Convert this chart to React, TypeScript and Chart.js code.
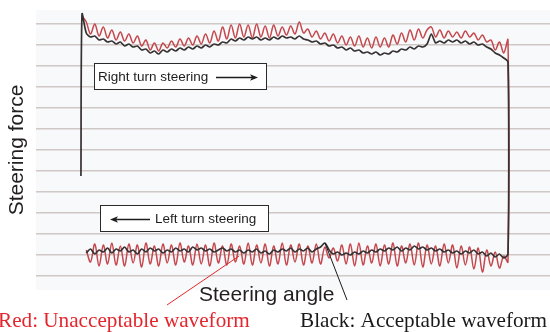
import { useEffect, useRef } from "react";
import { Chart, registerables } from "chart.js";

Chart.register(...registerables);

// Steering angle samples (deg)
const angles = [
  -400, -392, -384, -376, -368, -360, -352, -344, -336, -328,
  -320, -312, -304, -296, -288, -280, -272, -264, -256, -248,
  -240, -232, -224, -216, -208, -200, -192, -184, -176, -168,
  -160, -152, -144, -136, -128, -120, -112, -104, -96, -88,
  -80, -72, -64, -56, -48, -40, -32, -24, -16, -8,
  0, 8, 16, 24, 32, 40, 48, 56, 64, 72,
  80, 88, 96, 104, 112, 120, 128, 136, 144, 152,
  160, 168, 176, 184, 192, 200, 208, 216, 224, 232,
  240, 248, 256, 264, 272, 280, 288, 296, 304, 312,
  320, 328, 336, 344, 352, 360, 368, 376, 384, 392,
  400,
];

// Start of the black trace (bottom of the initial vertical rise)
const blackStartAngle = -402;
const blackStartForce = -26;

// Right turn steering (upper branch), steering force
const blackUpper = [
  136, 117, 113, 114, 110, 111, 108, 109, 106, 108,
  104, 106, 103, 104, 100, 101, 97, 99, 96, 100,
  98, 101, 99, 102, 100, 103, 101, 104, 102, 105,
  103, 106, 105, 108, 107, 111, 109, 112, 110, 113,
  111, 113, 110, 112, 110, 113, 111, 114, 112, 113,
  111, 114, 111, 110, 108, 109, 106, 107, 104, 105,
  102, 103, 100, 102, 99, 100, 97, 98, 96, 98,
  95, 97, 96, 99, 98, 101, 100, 103, 101, 104,
  103, 106, 116, 107, 109, 107, 110, 108, 110, 107,
  109, 106, 108, 105, 106, 103, 101, 97, 95, 92,
  88,
];

const redUpper = [
  134, 128, 116, 126, 114, 123, 112, 120, 110, 118,
  109, 116, 107, 114, 104, 110, 100, 107, 99, 107,
  102, 109, 103, 111, 104, 112, 105, 114, 106, 116,
  107, 119, 109, 123, 111, 125, 112, 126, 113, 125,
  112, 126, 113, 124, 112, 125, 114, 123, 115, 124,
  116, 128, 117, 121, 113, 119, 111, 117, 109, 116,
  107, 114, 105, 113, 104, 114, 103, 112, 102, 113,
  103, 112, 103, 115, 106, 117, 108, 120, 110, 121,
  112, 120, 123, 113, 120, 112, 119, 113, 118, 112,
  119, 113, 117, 110, 115, 108, 110, 100, 108, 97,
  110,
];

// Left turn steering (lower branch), steering force
const blackLower = [
  null, -103, -99, -104, -100, -102, -98, -103, -99, -101,
  -97, -102, -100, -104, -99, -102, -98, -101, -99, -103,
  -100, -102, -98, -101, -99, -102, -97, -100, -98, -101,
  -99, -102, -100, -98, -101, -99, -102, -100, -103, -100,
  -102, -99, -103, -101, -104, -100, -102, -99, -101, -98,
  -102, -99, -101, -98, -102, -99, -97, -93, -100, -104,
  -102, -105, -103, -105, -102, -104, -101, -103, -100, -102,
  -99, -101, -98, -100, -97, -101, -98, -100, -96, -99,
  -97, -100, -98, -101, -99, -102, -100, -103, -101, -104,
  -101, -103, -100, -104, -102, -106, -103, -107, -104, -108,
  -104,
];

const redLower = [
  null, -100, -112, -94, -116, -95, -114, -93, -115, -96,
  -116, -94, -113, -95, -117, -93, -114, -96, -116, -94,
  -113, -95, -115, -93, -112, -96, -115, -94, -114, -95,
  -116, -93, -113, -96, -115, -94, -112, -96, -114, -93,
  -115, -95, -113, -94, -116, -96, -114, -93, -115, -95,
  -112, -94, -115, -96, -113, -94, -114, -97, -108, -98,
  -111, -95, -114, -94, -116, -93, -115, -96, -113, -94,
  -116, -95, -114, -93, -116, -96, -113, -94, -115, -93,
  -117, -95, -114, -96, -116, -94, -113, -95, -118, -96,
  -115, -97, -119, -98, -122, -100, -116, -102, -118, -106,
  -112,
];

// Horizontal grid lines (force levels)
const gridTicks = [-126, -105, -84, -63, -42, -21, 0, 21, 42, 63, 84, 105, 126];

const SANS = '"Liberation Sans", Arial, Helvetica, sans-serif';
const SERIF = '"Liberation Serif", "Times New Roman", Times, serif';

type Pt = { x: number; y: number };

function branch(vals: (number | null)[]): Pt[] {
  const out: Pt[] = [];
  vals.forEach((v, i) => {
    if (v !== null) out.push({ x: angles[i], y: v });
  });
  return out;
}

function arrow(ctx: CanvasRenderingContext2D, x1: number, x2: number, y: number) {
  const dir = Math.sign(x2 - x1);
  ctx.beginPath();
  ctx.moveTo(x1, y);
  ctx.lineTo(x2 - dir * 5, y);
  ctx.lineWidth = 1.3;
  ctx.strokeStyle = "#1d1d1d";
  ctx.stroke();
  ctx.beginPath();
  ctx.moveTo(x2, y);
  ctx.lineTo(x2 - dir * 8, y - 3.2);
  ctx.lineTo(x2 - dir * 6, y);
  ctx.lineTo(x2 - dir * 8, y + 3.2);
  ctx.closePath();
  ctx.fillStyle = "#1d1d1d";
  ctx.fill();
}

export default function App() {
  const ref = useRef<HTMLCanvasElement>(null);

  useEffect(() => {
    const canvas = ref.current;
    if (!canvas) return;

    const blackPath: Pt[] = [
      { x: blackStartAngle, y: blackStartForce },
      ...branch(blackUpper),
      ...branch(blackLower).reverse(),
    ];
    const redPath: Pt[] = [...branch(redUpper), ...branch(redLower).reverse()];

    const annot = {
      id: "annot",
      beforeDraw(chart: any) {
        const { ctx, chartArea: a } = chart;
        ctx.save();
        ctx.fillStyle = "#ffffff";
        ctx.fillRect(0, 0, chart.width, chart.height);
        ctx.fillStyle = "#f8f9fa";
        ctx.fillRect(a.left, a.top, a.right - a.left, a.bottom - a.top);
        ctx.restore();
      },
      afterDraw(chart: any) {
        const ctx: CanvasRenderingContext2D = chart.ctx;
        ctx.save();
        // Boxes
        ctx.fillStyle = "#ffffff";
        ctx.strokeStyle = "#2a2a2a";
        ctx.lineWidth = 1;
        ctx.fillRect(94.5, 63.5, 172, 26);
        ctx.strokeRect(94.5, 63.5, 172, 26);
        ctx.fillRect(100.5, 205.5, 168, 26);
        ctx.strokeRect(100.5, 205.5, 168, 26);

        ctx.fillStyle = "#1d1d1d";
        ctx.font = `13.5px ${SANS}`;
        ctx.textAlign = "left";
        ctx.textBaseline = "alphabetic";
        ctx.fillText("Right turn steering", 98, 81);
        arrow(ctx, 216, 258, 77.5);
        ctx.fillStyle = "#1d1d1d";
        ctx.fillText("Left turn steering", 155, 223);
        arrow(ctx, 150, 110, 219.5);

        // Axis labels
        ctx.fillStyle = "#231f20";
        ctx.font = `21px ${SANS}`;
        ctx.textAlign = "left";
        ctx.fillText("Steering angle", 199, 301);
        ctx.save();
        ctx.translate(23, 150);
        ctx.rotate(-Math.PI / 2);
        ctx.textAlign = "center";
        ctx.fillText("Steering force", 0, 0);
        ctx.restore();

        // Leader lines
        ctx.lineWidth = 1;
        ctx.strokeStyle = "#e3262d";
        ctx.beginPath();
        ctx.moveTo(167, 305);
        ctx.lineTo(239, 256);
        ctx.stroke();
        ctx.strokeStyle = "#1a1a1a";
        ctx.beginPath();
        ctx.moveTo(325, 243);
        ctx.lineTo(347, 300);
        ctx.stroke();

        // Captions
        ctx.font = `21.2px ${SERIF}`;
        ctx.textAlign = "left";
        ctx.fillStyle = "#e3262d";
        ctx.fillText("Red: Unacceptable waveform", -2, 327);
        ctx.fillStyle = "#1a1a1a";
        ctx.fillText("Black: Acceptable waveform", 300, 327);
        ctx.restore();
      },
    };

    const chart = new Chart(canvas, {
      type: "line",
      data: {
        datasets: [
          {
            label: "Black: Acceptable waveform",
            data: blackPath,
            borderColor: "#363132",
            borderWidth: 1.7,
            pointRadius: 0,
            tension: 0.25,
            borderJoinStyle: "round",
          },
          {
            label: "Red: Unacceptable waveform",
            data: redPath,
            borderColor: "#c4484d",
            borderWidth: 1.5,
            pointRadius: 0,
            tension: 0.35,
            borderJoinStyle: "round",
          },
        ],
      },
      options: {
        animation: false,
        responsive: false,
        devicePixelRatio: 1,
        layout: { padding: { left: 36, top: 10, right: 0, bottom: 42 } },
        plugins: { legend: { display: false }, tooltip: { enabled: false } },
        scales: {
          x: { type: "linear", min: -486.4, max: 478.9, display: false },
          y: {
            type: "linear",
            min: -140,
            max: 140,
            display: true,
            afterBuildTicks: (s: any) => {
              s.ticks = gridTicks.map((v) => ({ value: v }));
            },
            ticks: { display: false },
            grid: { color: "#cfc8c6", lineWidth: 1.6, drawTicks: false },
            border: { display: false },
          },
        },
      },
      plugins: [annot],
    } as any);

    return () => chart.destroy();
  }, []);

  return (
    <div style={{ position: "fixed", left: 0, top: 0, width: 550, height: 332, background: "#fff" }}>
      <canvas ref={ref} width={550} height={332} style={{ width: 550, height: 332, display: "block" }} />
    </div>
  );
}
